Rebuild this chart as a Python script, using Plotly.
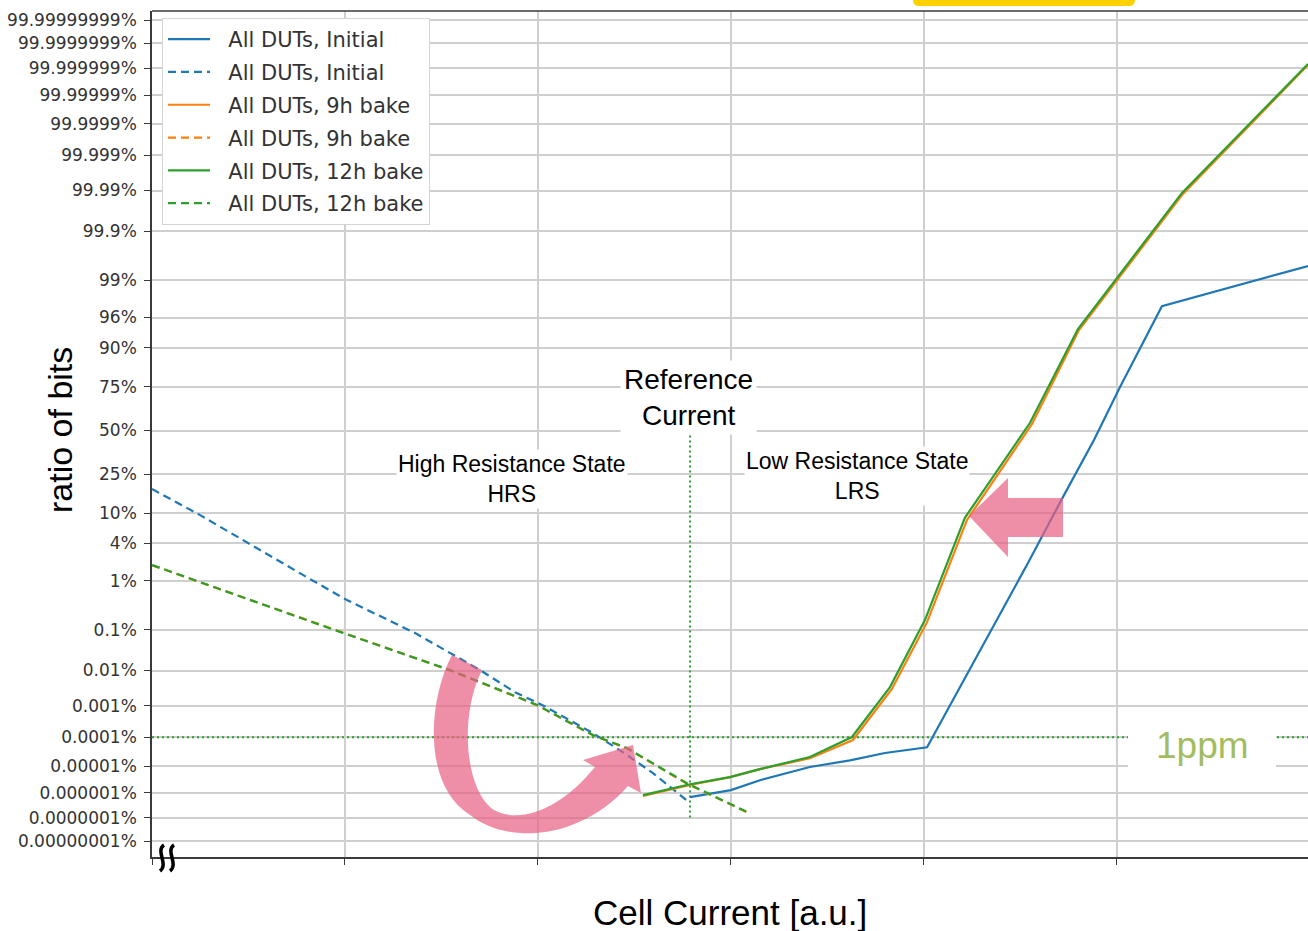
import plotly.graph_objects as go
from statistics import NormalDist

# ---------------- data ----------------
# y tick labels (probability scale, percent of bits)
y_tick_labels = ["99.99999999%", "99.9999999%", "99.999999%", "99.99999%", "99.9999%",
                 "99.999%", "99.99%", "99.9%", "99%", "96%", "90%", "75%", "50%", "25%",
                 "10%", "4%", "1%", "0.1%", "0.01%", "0.001%", "0.0001%", "0.00001%",
                 "0.000001%", "0.0000001%", "0.00000001%"]

# Cell current [a.u.] and cumulative ratio of bits [%]
init_lrs_x = [2.788, 3.0, 3.150, 3.409, 3.617, 3.798, 4.016, 4.539, 4.720, 4.881, 5.016, 5.233, 5.990]
init_lrs_y = [6.7e-7, 1.26e-6, 3.0e-6, 9.2e-6, 1.6e-5, 2.9e-5, 4.6e-5, 2.0, 15.1, 44.2, 75.0, 97.3, 99.46]

init_hrs_x = [0.0, 0.249, 0.793, 1.010, 1.363, 1.560, 1.699, 1.881, 2.021, 2.285, 2.440, 2.596, 2.788]
init_hrs_y = [18.2, 9.5, 1.2, 0.43, 0.085, 0.025, 0.0103, 0.0025, 0.00106, 0.000137, 3.1e-5, 5.5e-6, 3.9e-7]

bake9_lrs_x = [2.544, 2.788, 2.995, 3.150, 3.409, 3.632, 3.834, 4.016, 4.223, 4.560, 4.803, 5.342, 5.990]
bake9_lrs_y = [7.4e-7, 2.0e-6, 3.9e-6, 7.7e-6, 1.9e-5, 8.1e-5, 0.0031, 0.149, 8.3, 54.0, 94.03, 99.9877, 99.99999926]

bake9_hrs_x = [0.0, 0.990, 1.544, 1.995, 2.285, 2.461, 2.772, 3.098]
bake9_hrs_y = [1.84, 0.086, 0.0101, 0.00104, 0.000116, 4.2e-5, 2.2e-6, 1.45e-7]

bake12_lrs_x = [2.544, 2.788, 2.995, 3.150, 3.409, 3.627, 3.824, 4.005, 4.212, 4.549, 4.798, 5.337, 5.990]
bake12_lrs_y = [8.0e-7, 2.1e-6, 3.9e-6, 7.7e-6, 2.1e-5, 1.02e-4, 0.0035, 0.165, 8.8, 54.6, 94.2, 99.9884, 99.99999933]

bake12_hrs_x = [0.0, 0.990, 1.544, 1.995, 2.285, 2.461, 2.772, 3.098]
bake12_hrs_y = [1.86, 0.085, 0.0103, 0.00106, 0.000118, 4.3e-5, 2.3e-6, 1.5e-7]

ref_current_x = 2.788          # reference current position [a.u.]
ref_line_y = [50.0, 0.0000001]  # vertical marker extent [%]
ppm_level = 0.0001             # 1 ppm in percent
x_range = [0.0, 5.99]

# ---------------- helpers ----------------
ND = NormalDist()


def probit(pct):
    return ND.inv_cdf(pct / 100.0)


W, H = 1308, 931
ML, MR, MT, MB = 152, 0, 11, 74


def px(xp):
    return (xp - ML) / (W - ML - MR)


def py(yp):
    return (H - MB - yp) / (H - MT - MB)


def path(cmds):
    out = []
    for c in cmds:
        if isinstance(c, str):
            out.append(c)
        else:
            out.append(f"{px(c[0]):.5f},{py(c[1]):.5f}")
    return " ".join(out)


BLUE, ORANGE, GREEN = "#1f77b4", "#ff7f0e", "#2ca02c"
DASH = "8px,5px"
LW = 2.2

fig = go.Figure()

# reference lines (dotted)
fig.add_trace(go.Scatter(x=[x_range[0], x_range[1]], y=[probit(ppm_level)] * 2, mode="lines",
                         line=dict(color=GREEN, width=2, dash="2px,3px"), showlegend=False,
                         hoverinfo="skip"))
fig.add_trace(go.Scatter(x=[ref_current_x, ref_current_x], y=[probit(v) for v in ref_line_y],
                         mode="lines", line=dict(color=GREEN, width=2, dash="2px,3px"),
                         showlegend=False, hoverinfo="skip"))

series = [
    ("All DUTs, Initial", init_lrs_x, init_lrs_y, BLUE, "solid"),
    ("All DUTs, Initial", init_hrs_x, init_hrs_y, BLUE, DASH),
    ("All DUTs, 9h bake", bake9_lrs_x, bake9_lrs_y, ORANGE, "solid"),
    ("All DUTs, 9h bake", bake9_hrs_x, bake9_hrs_y, ORANGE, DASH),
    ("All DUTs, 12h bake", bake12_lrs_x, bake12_lrs_y, GREEN, "solid"),
    ("All DUTs, 12h bake", bake12_hrs_x, bake12_hrs_y, GREEN, DASH),
]
for i, (name, xs, ys, col, dash) in enumerate(series):
    fig.add_trace(go.Scatter(x=xs, y=[probit(v) for v in ys], mode="lines",
                             name="\u00a0\u00a0" + name, legendgroup=f"g{i}",
                             line=dict(color=col, width=LW, dash=dash)))

tick_vals = [probit(float(t.rstrip("%"))) for t in y_tick_labels]

AXCOL = "#3a3a3a"
GRID = "#cfcfcf"

fig.update_xaxes(range=x_range, showgrid=True, gridcolor=GRID, gridwidth=1.6,
                 tickvals=[0, 1, 2, 3, 4, 5], showticklabels=False, ticks="outside",
                 ticklen=6, tickcolor=AXCOL, tickwidth=1.2,
                 showline=True, linecolor=AXCOL, linewidth=1.6, mirror=False, zeroline=False)
fig.update_yaxes(range=[-6.609, 6.501], tickvals=tick_vals, ticktext=y_tick_labels,
                 showgrid=True, gridcolor=GRID, gridwidth=1.6, ticks="outside", ticklen=6,
                 tickcolor=AXCOL, tickwidth=1.2, ticklabelstandoff=4,
                 tickfont=dict(family="DejaVu Sans", size=17, color="#333333"),
                 showline=True, linecolor=AXCOL, linewidth=1.6, mirror=False, zeroline=False)

PINK = "rgba(232,96,130,0.70)"
shapes = [
    # top frame line
    dict(type="line", xref="paper", yref="paper", x0=0, x1=1, y0=1, y1=1,
         line=dict(color=AXCOL, width=1.6), layer="above"),
    # white patch behind "1ppm"
    dict(type="rect", xref="paper", yref="paper", x0=px(1128), x1=px(1276), y0=py(771), y1=py(715),
         fillcolor="white", line=dict(width=0), layer="above"),
    # curved pink arrow (HRS shift)
    dict(type="path", xref="paper", yref="paper", layer="above", fillcolor=PINK, line=dict(width=0),
         path=path(["M", (452, 655), "C", (428, 700), (422, 785), (470, 815),
                    "C", (508, 845), (580, 840), (628, 786), "L", (641, 793), "L", (633, 745),
                    "L", (583, 760), "L", (595, 767), "C", (560, 810), (520, 824), (494, 810),
                    "C", (466, 792), (458, 718), (482, 670), "Z"])),
    # left pointing pink arrow (LRS shift)
    dict(type="path", xref="paper", yref="paper", layer="above", fillcolor=PINK, line=dict(width=0),
         path=path(["M", (969, 516), "L", (1008, 478), "L", (1008, 498), "L", (1063, 498),
                    "L", (1063, 537), "L", (1008, 537), "L", (1008, 557), "Z"])),
    # yellow rounded box at the top edge
    dict(type="path", xref="paper", yref="paper", layer="above", fillcolor="#ffd100",
         line=dict(width=0),
         path=path(["M", (913, -3), "L", (1135, -3), "L", (1135, 0), "Q", (1135, 6), (1129, 6),
                    "L", (919, 6), "Q", (913, 6), (913, 0), "Z"])),
]
# axis break mark (two wavy strokes)
for x0 in (162, 172):
    shapes.append(dict(type="path", xref="paper", yref="paper", layer="above",
                       line=dict(color="black", width=3.5),
                       path=path(["M", (x0 + 2, 845), "C", (x0 - 7, 851), (x0 + 7, 864),
                                  (x0 - 2, 871)])))

ARIAL = "Liberation Sans, Arial, sans-serif"


def note(text, xp, yp, size, color="black", **kw):
    d = dict(text=text, x=px(xp), y=py(yp), xref="paper", yref="paper", showarrow=False,
             xanchor="center", yanchor="middle", font=dict(family=kw.pop("family", ARIAL),
                                                            size=size, color=color))
    d.update(kw)
    return d


annotations = [
    note("Reference<br>Current", 688, 397, 28, bgcolor="white", borderpad=3),
    note("High Resistance State<br>HRS", 512, 479, 23, bgcolor="white", borderpad=1),
    note("Low Resistance State<br>LRS", 857, 476, 23, bgcolor="white", borderpad=1),
    note("1ppm", 1202, 745, 37, color="#a3bc5f"),
    note("ratio of bits", 60, 430, 34, textangle=-90),
    note("Cell Current [a.u.]", 730, 912, 35),
]

fig.update_layout(
    width=W, height=H, margin=dict(l=ML, r=MR, t=MT, b=MB, pad=0),
    paper_bgcolor="white", plot_bgcolor="white",
    shapes=shapes, annotations=annotations,
    legend=dict(x=px(162), y=py(18), xanchor="left", yanchor="top", bgcolor="white",
                bordercolor="#d4d4d4", borderwidth=1, tracegroupgap=2.5, itemwidth=42,
                font=dict(family="DejaVu Sans", size=21, color="#333333")),
    showlegend=True,
)

fig.write_html("out.html", config={"displayModeBar": False},
               post_script="document.body.style.margin='0px';")
